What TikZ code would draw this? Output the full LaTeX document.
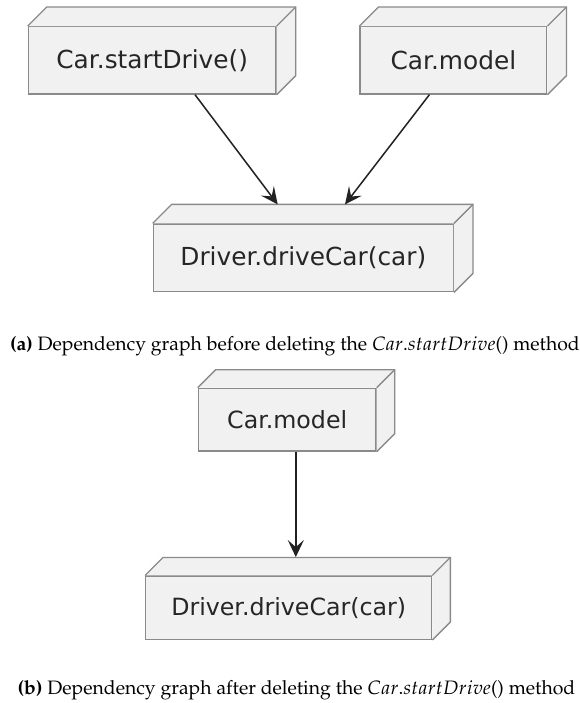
\documentclass[tikz,border=0pt]{standalone}
\usepackage{mathpazo}
\usepackage{fontspec}
\newfontfamily\dejavu{DejaVu Sans}
\usetikzlibrary{arrows.meta,calc}
\definecolor{boxfill}{HTML}{F1F1F1}
\definecolor{boxline}{HTML}{8A8A8A}
\definecolor{arrcol}{HTML}{222222}
\newcommand\capfont{\fontencoding{OT1}\fontfamily{ppl}\fontsize{19.4}{23}\selectfont}
\newcommand\depthbox[2]{%
  \fill[boxfill] (#1.north west) -- ++(#2,-#2) -- ($(#1.north east)+(#2,-#2)$) -- ($(#1.south east)+(#2,-#2)$) -- (#1.south east) -- (#1.north east) -- cycle;
  \draw[boxedge] (#1.north west) -- ++(#2,-#2) -- ($(#1.north east)+(#2,-#2)$) -- ($(#1.south east)+(#2,-#2)$) -- (#1.south east);
  \draw[boxedge] (#1.north east) -- ++(#2,-#2);
}
\tikzset{
  boxedge/.style={draw=boxline, line width=1.3pt, line join=miter},
  depbox/.style={draw=boxline, fill=boxfill, line width=1.3pt, inner sep=0pt, text=black!85},
  topfont/.style={font=\dejavu\fontsize{24.8}{25}\selectfont},
  botfont/.style={font=\dejavu\fontsize{23.7}{24}\selectfont},
  arr/.style={draw=arrcol, line width=1.5pt, -{Stealth[length=17pt,width=16pt,inset=7pt]}},
}
\begin{document}
\begin{tikzpicture}[x=1pt,y=-1pt]
\fill[white] (0,0) rectangle (579,703);
\useasboundingbox (0,0) rectangle (579,703);
% (a)
\node[depbox,topfont,minimum width=247.7pt,minimum height=67.3pt] (b1) at (152.2,60.4) {Car.startDrive()};
\depthbox{b1}{19}
\node[depbox,topfont,minimum width=186.7pt,minimum height=67.3pt] (b2) at (453.4,60.4) {Car.model};
\depthbox{b2}{19}
\node[depbox,topfont,minimum width=300pt,minimum height=67.7pt] (b3) at (303.3,257.9) {Driver.driveCar(car)};
\depthbox{b3}{19}
\draw[arr] ([xshift=42.8pt]b1.south) -- ([xshift=-25.6pt,yshift=19pt]b3.north);
\draw[arr] ([xshift=-24pt]b2.south) -- ([xshift=41.7pt,yshift=19pt]b3.north);
\node[anchor=base,font=\capfont] (capa) at (295,350) {\textbf{(a)} Dependency graph before deleting the $Car.startDrive$() method};
% (b)
\node[depbox,botfont,minimum width=177.7pt,minimum height=62.7pt] (b4) at (287.2,419.7) {Car.model};
\depthbox{b4}{18}
\node[depbox,botfont,minimum width=286pt,minimum height=63.3pt] (b5) at (288.7,607.7) {Driver.driveCar(car)};
\depthbox{b5}{18}
\draw[arr] ([xshift=8.6pt]b4.south) -- ([xshift=7.1pt,yshift=18.3pt]b5.north);
\node[anchor=base,font=\capfont] (capb) at (296.5,694.3) {\textbf{(b)} Dependency graph after deleting the $Car.startDrive$() method};
\end{tikzpicture}
\end{document}
